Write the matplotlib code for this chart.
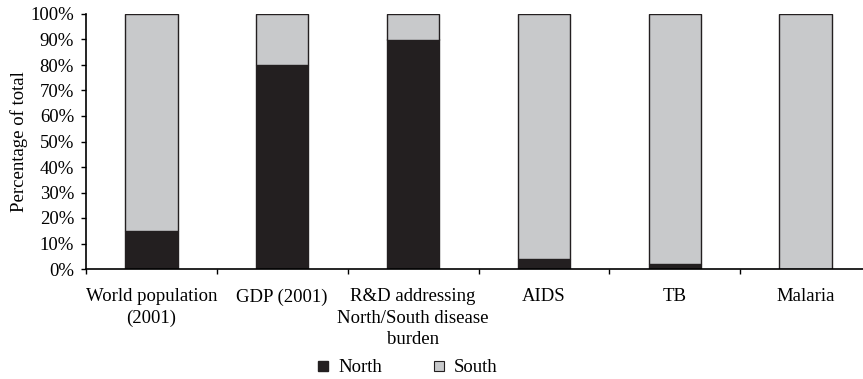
import matplotlib.pyplot as plt
import numpy as np
from matplotlib.ticker import FixedLocator, NullFormatter, FuncFormatter
from matplotlib.patches import Patch

# data
categories = ['World population\n(2001)', 'GDP (2001)',
              'R&D addressing\nNorth/South disease\nburden', 'AIDS', 'TB', 'Malaria']
north = [15, 80, 90, 4, 2, 0]
south = [100 - v for v in north]

north_color = '#231f20'
south_color = '#c8c9cb'

plt.rcParams['font.family'] = ['Liberation Serif', 'DejaVu Serif']
plt.rcParams['font.size'] = 13.5

fig = plt.figure(figsize=(8.63, 3.79), dpi=100)
ax = fig.add_axes([86 / 863, 1 - 269 / 379, 785 / 863, 255 / 379])

x = np.arange(len(categories))
ax.bar(x, north, width=0.4, color=north_color, edgecolor='#231f20', linewidth=1, label='North')
ax.bar(x, south, width=0.4, bottom=north, color=south_color, edgecolor='#231f20',
       linewidth=1, label='South')

ax.set_xlim(-0.5, len(categories) - 0.5)
ax.set_ylim(0, 100)
ax.set_yticks(np.arange(0, 101, 10))
ax.yaxis.set_major_formatter(FuncFormatter(lambda v, p: '%d%%' % v))
ax.set_ylabel('Percentage of total', labelpad=2)

# ticks between categories, labels centered without ticks
ax.xaxis.set_major_locator(FixedLocator(np.arange(-0.5, len(categories), 1.0)))
ax.xaxis.set_major_formatter(NullFormatter())
ax.xaxis.set_minor_locator(FixedLocator(x))
ax.set_xticklabels(categories, minor=True, linespacing=1.32)
ax.tick_params(axis='x', which='minor', length=0, pad=14)
ax.tick_params(axis='x', which='major', length=3.6, width=1, direction='out')
ax.tick_params(axis='y', length=3.6, width=1, direction='out', pad=5)

for s in ['top', 'right']:
    ax.spines[s].set_visible(False)
for s in ['left', 'bottom']:
    ax.spines[s].set_linewidth(1.2)

handles = [Patch(facecolor=north_color, edgecolor=north_color, label='North'),
           Patch(facecolor=south_color, edgecolor='#231f20', linewidth=0.8, label='South')]
fig.legend(handles=handles, loc='center', bbox_to_anchor=(408 / 863, 1 - 368 / 379),
           ncol=2, frameon=False, handlelength=0.5, handleheight=0.5,
           handletextpad=0.55, columnspacing=2.8, borderpad=0)

fig.savefig('out.png', dpi=100)
